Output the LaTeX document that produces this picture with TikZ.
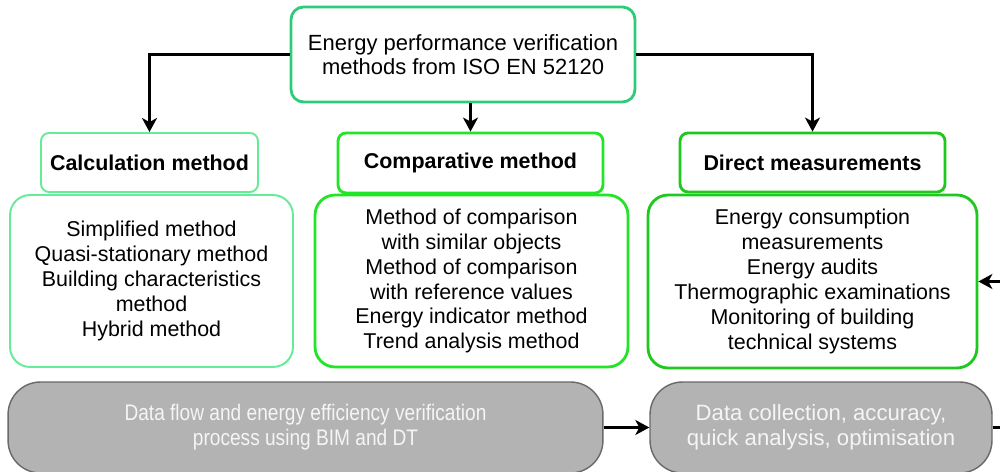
\documentclass[tikz,border=0pt]{standalone}
\usepackage{fontspec}
\setmainfont{Liberation Sans}
\newfontfamily\narrowsans[FakeStretch=0.85]{Liberation Sans}
\usetikzlibrary{arrows.meta}
\definecolor{topgreen}{RGB}{46,204,122}
\definecolor{calcgreen}{RGB}{100,236,150}
\definecolor{compgreen}{RGB}{34,228,40}
\definecolor{dirgreen}{RGB}{30,200,30}
\definecolor{flowgray}{RGB}{179,179,179}
\definecolor{flowedge}{RGB}{105,105,105}
\tikzset{box/.style={draw,fill=white,align=center,inner sep=2pt,font=\fontsize{12.2}{14.2}\selectfont},
  head/.style={box,rounded corners=0.16cm,font=\bfseries\fontsize{12.2}{14.2}\selectfont},
  body/.style={box,rounded corners=0.4cm}}
\begin{document}
\begin{tikzpicture}[x=0.02cm,y=-0.02cm,
    flow/.style={box,fill=flowgray,draw=flowedge,line width=0.8pt,text=white!96!black,rounded corners=0.65cm,minimum height=1.82cm,font=\fontsize{12.6}{14.2}\selectfont},
    >={Stealth[length=0.28cm,width=0.3cm,inset=0.08cm]}]
  \useasboundingbox (0,0) rectangle (1000,472);
    \node[box,draw=topgreen,line width=1.6pt,rounded corners=0.25cm,minimum width=6.88cm,minimum height=1.9cm,font=\fontsize{12.5}{13.8}\selectfont]
        (iso) at (463,54.5) {Energy performance verification\\methods from ISO EN 52120};
    \node[head,draw=calcgreen,line width=1.1pt,minimum width=4.34cm,minimum height=1.18cm] (calc) at (149.5,162.5) {Calculation method};
    \node[body,draw=calcgreen,line width=1.1pt,minimum width=5.66cm,minimum height=3.44cm] (calclist) at (151.5,281)
        {Simplified method\\Quasi-stationary method\\Building characteristics\\method\\Hybrid method};
    \node[head,draw=compgreen,line width=1.6pt,minimum width=5.3cm,minimum height=1.2cm] (comp) at (470.5,163) {Comparative method};
    \node[body,draw=compgreen,line width=1.6pt,minimum width=6.26cm,minimum height=3.44cm] (complist) at (471.5,281)
        {Method of comparison\\with similar objects\\Method of comparison\\with reference values\\Energy indicator method\\Trend analysis method};
    \node[head,draw=dirgreen,line width=1.6pt,minimum width=5.3cm,minimum height=1.18cm] (direct) at (812.5,162.5) {Direct measurements};
    \node[body,draw=dirgreen,line width=1.6pt,minimum width=6.58cm,minimum height=3.46cm] (directlist) at (812.5,281.5)
        {Energy consumption\\measurements\\Energy audits\\Thermographic examinations\\Monitoring of building\\technical systems};
    \node[flow,minimum width=11.9cm,font=\narrowsans\fontsize{12.8}{14.2}\selectfont] (bimdt) at (305.5,427.5) {Data flow and energy efficiency verification\\process using BIM and DT};
    \node[flow,minimum width=6.84cm] (collect) at (821,427.5) {Data collection, accuracy,\\quick analysis, optimisation};
    \coordinate (outright) at (1000,427.5);
    \coordinate (inright) at (1000,281.5);
  \begin{scope}[line width=1.4pt]
    \draw[->] (iso.west) -| (calc.north);
    \draw[->] (comp.north |- iso.south) -- (comp.north);
    \draw[->] (iso.east) -| (direct.north);
    \draw[->] (bimdt) -- (collect);
    \draw (collect) -- (outright);
    \draw[->] (inright) -- (directlist);
  \end{scope}
\end{tikzpicture}
\end{document}
